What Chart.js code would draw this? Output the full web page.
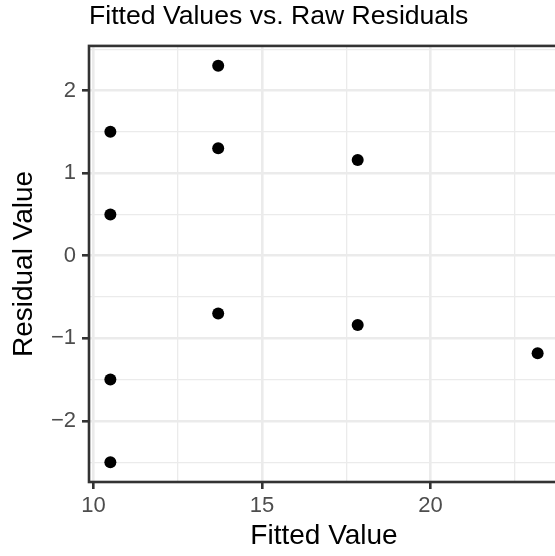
<!DOCTYPE html>
<html>
<head>
<meta charset="utf-8">
<title>Fitted Values vs. Raw Residuals</title>
<script src="https://cdn.jsdelivr.net/npm/chart.js@4/dist/chart.umd.min.js"></script>
<style>
    html, body { margin: 0; padding: 0; overflow: hidden; background: #fff; }
    #residChart { position: absolute; left: 0; top: 0; }
</style>
</head>
<body>
<canvas id="residChart" width="565" height="556"></canvas>
<script>
// one entry per observation
const fitted    = [10.5, 10.5, 10.5, 10.5, 13.7, 13.7, 13.7, 17.84, 17.84, 23.18];
const residuals = [1.5, 0.5, -1.5, -2.5, 2.3, 1.3, -0.7, 1.16, -0.84, -1.18];

const xTicks = [10, 15, 20];
const yTicks = [-2, -1, 0, 1, 2];

const FONT = "'Liberation Sans', Arial, Helvetica, sans-serif";

// ggplot style 5% padding on each side of the data range
function expandRange(values) {
    let lo = Math.min(...values), hi = Math.max(...values);
    let pad = (hi - lo) * 0.05;
    return [lo - pad, hi + pad];
}
const xLim = expandRange(fitted);
const yLim = expandRange(residuals);

let points = fitted.map((f, i) => ({x: f, y: residuals[i]}));

function isMajor(list, v) {
    return list.some(t => Math.abs(t - v) < 1e-9);
}
function fmt(v) {
    return v < 0 ? '\u2212' + Math.abs(v) : String(v);
}

// full rectangle around the panel, drawn on top like panel.border
const panelBorder = {
    id: 'panelBorder',
    afterDraw(chart) {
        const {ctx, chartArea: a} = chart;
        ctx.save();
        ctx.strokeStyle = '#333333';
        ctx.lineWidth = 2.6;
        ctx.strokeRect(a.left, a.top, a.right - a.left, a.bottom - a.top);
        ctx.restore();
    }
};

function gridFor(majors) {
    return {
        color: '#EBEBEB',
        lineWidth: c => isMajor(majors, c.tick.value) ? 2.6 : 1.3,
        drawTicks: true,
        tickLength: 7,
        tickWidth: 2.6,
        tickColor: c => isMajor(majors, c.tick.value) ? '#333333' : 'rgba(0,0,0,0)'
    };
}

const ctx = document.getElementById('residChart').getContext('2d');

new Chart(ctx, {
    type: 'scatter',
    data: {
        datasets: [{
            label: 'Residuals',
            data: points,
            backgroundColor: '#000000',
            borderWidth: 0,
            pointRadius: 6,
            pointHoverRadius: 6
        }]
    },
    options: {
        responsive: false,
        animation: false,
        layout: { padding: {left: 0, right: 3, top: 0, bottom: 0} },
        plugins: {
            legend: { display: false },
            tooltip: { enabled: false },
            title: {
                display: true,
                text: 'Fitted Values vs. Raw Residuals',
                align: 'start',
                fullSize: false,
                color: '#000000',
                font: { family: FONT, size: 26.6, weight: 'normal' },
                padding: { top: 1, bottom: 13 }
            }
        },
        scales: {
            x: {
                type: 'linear',
                min: xLim[0],
                max: xLim[1],
                border: { display: false },
                grid: gridFor(xTicks),
                ticks: {
                    stepSize: 2.5,
                    includeBounds: false,
                    autoSkip: false,
                    maxRotation: 0,
                    padding: 4,
                    color: '#4D4D4D',
                    font: { family: FONT, size: 22 },
                    callback: v => isMajor(xTicks, v) ? fmt(v) : ''
                },
                title: {
                    display: true,
                    text: 'Fitted Value',
                    color: '#000000',
                    font: { family: FONT, size: 28 },
                    padding: { top: 0, bottom: 3 }
                },
                afterFit: scale => { scale.height = 74; }
            },
            y: {
                type: 'linear',
                min: yLim[0],
                max: yLim[1],
                border: { display: false },
                grid: gridFor(yTicks),
                ticks: {
                    stepSize: 0.5,
                    includeBounds: false,
                    autoSkip: false,
                    padding: 6,
                    color: '#4D4D4D',
                    font: { family: FONT, size: 22 },
                    callback: v => isMajor(yTicks, v) ? fmt(v) : ''
                },
                title: {
                    display: true,
                    text: 'Residual Value',
                    color: '#000000',
                    font: { family: FONT, size: 28 },
                    padding: { top: 7, bottom: 0 }
                },
                afterFit: scale => { scale.width = 89; }
            }
        }
    },
    plugins: [panelBorder]
});
</script>
</body>
</html>
